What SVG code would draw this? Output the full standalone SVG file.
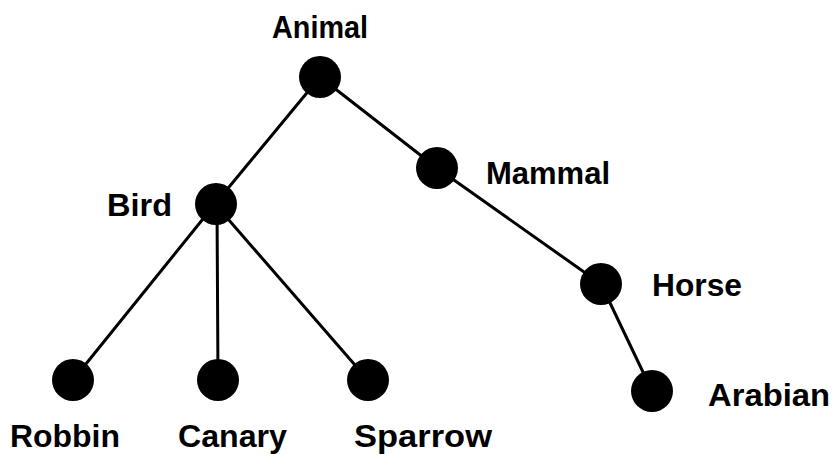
<svg xmlns="http://www.w3.org/2000/svg" width="838" height="454" viewBox="0 0 838 454">
<style>
.n{fill:#000}
.e{stroke:#000;stroke-width:3;fill:none;stroke-linecap:round}
text{font-family:"Liberation Sans",Arial,sans-serif;font-weight:bold;font-size:31px;fill:#000}
</style>
<rect width="838" height="454" fill="#fff"/>
<g id="edges">
<line class="e" x1="320" y1="77" x2="215" y2="204"/>
<line class="e" x1="320" y1="77" x2="437" y2="168"/>
<line class="e" x1="437" y1="168" x2="601" y2="284"/>
<line class="e" x1="601" y1="284" x2="652" y2="391"/>
<line class="e" x1="215" y1="204" x2="73" y2="380"/>
<line class="e" x1="217" y1="204" x2="218" y2="380"/>
<line class="e" x1="215" y1="204" x2="368" y2="380"/>
</g>
<g id="animal"><circle class="n" cx="320" cy="77" r="21"/><text x="272" y="38" textLength="96" lengthAdjust="spacingAndGlyphs">Animal</text></g>
<g id="mammal"><circle class="n" cx="437" cy="168" r="21"/><text x="486" y="184" textLength="124" lengthAdjust="spacingAndGlyphs">Mammal</text></g>
<g id="bird"><circle class="n" cx="216" cy="204" r="21"/><text x="107" y="216" textLength="65" lengthAdjust="spacingAndGlyphs">Bird</text></g>
<g id="horse"><circle class="n" cx="601" cy="284" r="21"/><text x="652" y="296" textLength="90" lengthAdjust="spacingAndGlyphs">Horse</text></g>
<g id="arabian"><circle class="n" cx="652" cy="391" r="21"/><text x="708" y="406" textLength="122" lengthAdjust="spacingAndGlyphs">Arabian</text></g>
<g id="robbin"><circle class="n" cx="73" cy="380" r="21"/><text x="10" y="447" textLength="110" lengthAdjust="spacingAndGlyphs">Robbin</text></g>
<g id="canary"><circle class="n" cx="218" cy="380" r="21"/><text x="178" y="447" textLength="109" lengthAdjust="spacingAndGlyphs">Canary</text></g>
<g id="sparrow"><circle class="n" cx="368" cy="380" r="21"/><text x="354" y="447" textLength="138" lengthAdjust="spacingAndGlyphs">Sparrow</text></g>
</svg>
